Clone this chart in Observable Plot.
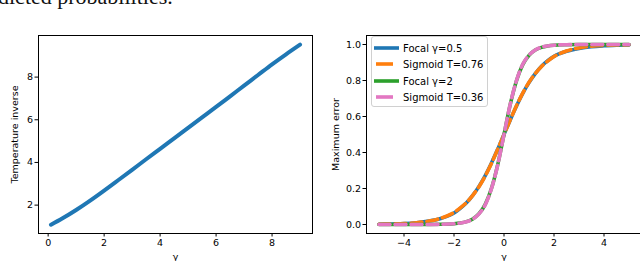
<!DOCTYPE html>
<html>
<head>
<meta charset="utf-8">
<script src="https://cdn.jsdelivr.net/npm/d3@7"></script>
<script src="https://cdn.jsdelivr.net/npm/@observablehq/plot@0.6"></script>
<style>
  html, body { margin: 0; padding: 0; background: #fff; width: 640px; height: 261px; overflow: hidden; }
  #wrap { position: relative; width: 640px; height: 261px; overflow: hidden; }
  #toptext { position: absolute; left: -2px; top: -16px; font-family: "Liberation Serif", serif; font-size: 22px; color: #111; white-space: nowrap; }
  #left { position: absolute; left: 0; top: 0; width: 320px; height: 261px; }
  #right { position: absolute; left: 320px; top: 0; width: 321px; height: 261px; }
  #left svg, #right svg { max-width: none !important; display: block; }
  #legend { position: absolute; left: 371px; top: 36px; width: 115px; height: 69px; border: 1px solid #d0d0d0; border-radius: 3px; background: rgba(255,255,255,0.85); }
  svg text { font-family: "DejaVu Sans", sans-serif; }
</style>
</head>
<body>
<div id="wrap">
  <div id="toptext">dicted probabilities.</div>
  <div id="left"></div>
  <div id="right"></div>
  <div id="legend"></div>
</div>
<script>
// ---- Left panel data: inverse temperature vs gamma ----
const gammaLeft = [0.1, 0.5, 1, 1.5, 2, 2.5, 3, 3.5, 4, 4.5, 5, 5.5, 6, 6.5, 7, 7.5, 8, 8.5, 9];
const tempInverse = [1.08, 1.37, 1.77, 2.21, 2.68, 3.165, 3.655, 4.15, 4.64, 5.13, 5.62, 6.11, 6.6, 7.1, 7.6, 8.1, 8.6, 9.07, 9.52];
const leftXTicks = [0, 2, 4, 6, 8];
const leftYTicks = [2, 4, 6, 8];

// ---- Right panel data: maximum error vs gamma ----
const gammaRight = [-5, -4.5, -4, -3.5, -3, -2.5, -2, -1.75, -1.5, -1.25, -1, -0.75, -0.5, -0.25, 0, 0.25, 0.5, 0.75, 1, 1.25, 1.5, 1.75, 2, 2.5, 3, 3.5, 4, 4.5, 5];
const focal05   = [0.001, 0.003, 0.005, 0.010, 0.019, 0.035, 0.064, 0.090, 0.121, 0.162, 0.212, 0.272, 0.342, 0.419, 0.5, 0.581, 0.658, 0.728, 0.788, 0.838, 0.879, 0.91, 0.934, 0.962, 0.978, 0.988, 0.993, 0.996, 0.998];
const sigmoid076 = [0.001, 0.003, 0.005, 0.010, 0.019, 0.036, 0.067, 0.092, 0.122, 0.162, 0.210, 0.270, 0.340, 0.418, 0.5, 0.582, 0.660, 0.730, 0.790, 0.838, 0.878, 0.908, 0.933, 0.964, 0.981, 0.990, 0.995, 0.997, 0.999];
const focal2    = [0, 0, 0, 0.0001, 0.0003, 0.001, 0.004, 0.008, 0.016, 0.031, 0.060, 0.112, 0.201, 0.333, 0.5, 0.667, 0.799, 0.888, 0.940, 0.969, 0.984, 0.992, 0.996, 0.999, 1, 1, 1, 1, 1];
const sigmoid036 = [0, 0, 0, 0.0001, 0.0002, 0.001, 0.004, 0.008, 0.015, 0.030, 0.059, 0.110, 0.200, 0.332, 0.5, 0.668, 0.800, 0.890, 0.941, 0.970, 0.985, 0.992, 0.996, 0.999, 1, 1, 1, 1, 1];
const rightXTicks = [-4, -2, 0, 2, 4];
const rightYTicks = [0, 0.2, 0.4, 0.6, 0.8, 1.0];

const seriesNames = ["Focal γ=0.5", "Sigmoid T=0.76", "Focal γ=2", "Sigmoid T=0.36"];
const seriesColors = ["#1f77b4", "#ff7f0e", "#2ca02c", "#e377c2"];
const seriesDashed = [false, true, false, true];
const DASH = "11 5";

const leftData = gammaLeft.map((g, i) => ({g, v: tempInverse[i]}));
const rightSeries = [focal05, sigmoid076, focal2, sigmoid036].map(vals => gammaRight.map((g, i) => ({g, v: vals[i]})));

const FS = 9.5;

const leftPlot = Plot.plot({
  width: 320, height: 261,
  marginLeft: 38, marginRight: 8, marginTop: 35, marginBottom: 28,
  style: {fontFamily: "DejaVu Sans, sans-serif", fontSize: FS + "px", background: "transparent", color: "#000"},
  x: {domain: [-0.345, 9.445]},
  y: {domain: [0.67, 9.95]},
  marks: [
    Plot.line(leftData, {x: "g", y: "v", stroke: "#1f77b4", strokeWidth: 4, curve: "monotone-x"}),
    Plot.axisX({ticks: leftXTicks, tickSize: 3.5, tickPadding: 2, fontSize: FS, label: "γ", labelAnchor: "center", labelArrow: "none", labelOffset: 26}),
    Plot.axisY({ticks: leftYTicks, tickSize: 3.5, tickPadding: 2, fontSize: FS, label: "Temperature inverse", labelAnchor: "center", labelArrow: "none", labelOffset: 27}),
    Plot.frame({stroke: "#000", strokeWidth: 1})
  ]
});
document.getElementById("left").appendChild(leftPlot);

const rightMarks = rightSeries.map((data, i) => Plot.line(data, Object.assign({
  x: "g", y: "v", stroke: seriesColors[i], strokeWidth: 3.6, curve: "monotone-x",
  className: "series-" + i
}, seriesDashed[i] ? {strokeDasharray: DASH} : {})));

const rightPlot = Plot.plot({
  width: 321, height: 261,
  marginLeft: 46, marginRight: 0, marginTop: 35, marginBottom: 28,
  style: {fontFamily: "DejaVu Sans, sans-serif", fontSize: FS + "px", background: "transparent", color: "#000"},
  x: {domain: [-5.5, 5.5]},
  y: {domain: [-0.05, 1.05]},
  marks: [
    ...rightMarks,
    Plot.axisX({ticks: rightXTicks, tickSize: 3.5, tickPadding: 2, fontSize: FS, tickFormat: d => (d < 0 ? "−" + Math.abs(d) : String(d)), label: "γ", labelAnchor: "center", labelArrow: "none", labelOffset: 26}),
    Plot.axisY({ticks: rightYTicks, tickSize: 3.5, tickPadding: 2, fontSize: FS, tickFormat: d3.format(".1f"), label: "Maximum error", labelAnchor: "center", labelArrow: "none", labelOffset: 34}),
    Plot.frame({stroke: "#000", strokeWidth: 1})
  ]
});
// make sure the dash pattern reaches the drawn paths
seriesDashed.forEach((d, i) => {
  if (d) d3.select(rightPlot).selectAll(".series-" + i + " path, path.series-" + i).style("stroke-dasharray", DASH);
});
document.getElementById("right").appendChild(rightPlot);

// ---- Legend ----
const ns = "http://www.w3.org/2000/svg";
const lsvg = document.createElementNS(ns, "svg");
lsvg.setAttribute("width", 115);
lsvg.setAttribute("height", 69);
const rowsY = [11, 27, 44, 60];
seriesNames.forEach((name, i) => {
  const ln = document.createElementNS(ns, "line");
  ln.setAttribute("x1", seriesDashed[i] ? 4 : 2);
  ln.setAttribute("x2", seriesDashed[i] ? 21 : 27);
  ln.setAttribute("y1", rowsY[i]);
  ln.setAttribute("y2", rowsY[i]);
  ln.setAttribute("stroke", seriesColors[i]);
  ln.setAttribute("stroke-width", 3.6);
  lsvg.appendChild(ln);
  const t = document.createElementNS(ns, "text");
  t.setAttribute("x", 31);
  t.setAttribute("y", rowsY[i]);
  t.setAttribute("dy", "0.35em");
  t.setAttribute("font-size", 10);
  t.setAttribute("fill", "#000");
  t.textContent = name;
  lsvg.appendChild(t);
});
document.getElementById("legend").appendChild(lsvg);
</script>
</body>
</html>
